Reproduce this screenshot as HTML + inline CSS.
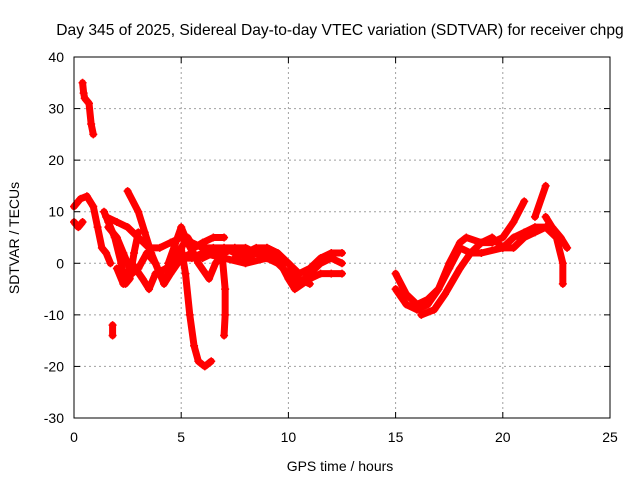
<!DOCTYPE html>
<html><head><meta charset="utf-8"><style>
body{margin:0;background:#fff}
svg{display:block;font-family:"Liberation Sans",sans-serif;font-size:14px}
</style></head><body>
<svg id="chart" width="640" height="480">
<text x="340" y="35" text-anchor="middle" style="font-size:15.6px">Day 345 of 2025, Sidereal Day-to-day VTEC variation (SDTVAR) for receiver chpg</text>
<text x="340" y="471" text-anchor="middle">GPS time / hours</text>
<text transform="translate(19,238) rotate(-90)" text-anchor="middle">SDTVAR / TECUs</text>
<g id="grid"></g><g id="ticks"></g><g id="marks"></g>
<rect x="74" y="57" width="536" height="361" fill="none" stroke="#000"/>
</svg>
<script>
const xTicks=[0,5,10,15,20,25];
const yTicks=[-30,-20,-10,0,10,20,30,40];
const trackEarly=[[0.4,35],[0.45,33],[0.5,32],[0.7,31],[0.8,27],[0.9,25]];
const trackA=[[0,11],[0.3,12.5],[0.6,13],[0.9,11],[1.1,7],[1.3,3],[1.5,2],[1.7,0]];
const trackB=[[0,8],[0.2,7],[0.4,8]];
const trackC=[[1.4,10],[1.6,8],[1.9,5],[2.2,0],[2.4,-4],[2.6,-3],[2.8,2],[3,6]];
const trackD=[[1.5,9],[2,8],[2.5,7],[3,5],[3.5,3],[4,3],[4.5,4],[5,5],[5.5,4],[6,3],[6.5,3],[7,3],[7.5,2],[8,2],[8.5,3],[9,3],[9.5,2],[10,0],[10.5,-2],[11,-1],[11.5,1],[12,2],[12.5,2]];
const trackE=[[2.5,14],[3,10],[3.3,6],[3.6,2],[4,-2],[4.3,-3],[4.6,0],[5,3],[5.3,5],[5.6,3],[6,4],[6.5,5],[7,5]];
const trackF=[[5,3],[5.2,-2],[5.4,-10],[5.6,-16],[5.8,-19],[6.1,-20],[6.4,-19]];
const trackG=[[6.9,2],[7.05,-5],[7.05,-10],[7,-14]];
const trackH=[[4.4,0],[5,7],[5.3,4],[5.8,0],[6.3,-3],[6.6,0],[7,2],[7.5,3]];
const trackI=[[7.5,1],[8,2],[9,2],[9.5,1],[10,-3],[10.3,-5],[11,-3],[11.5,-2],[12,-2],[12.5,-2]];
const trackJ=[[2,-1],[2.3,-4],[2.7,0],[3.2,-3],[3.5,-5],[3.8,-2],[4.3,-1],[4.7,1],[5.5,1],[6,2],[7,1],[8,0],[9,1],[10,0],[10.5,-3],[11,-4]];
const trackK=[[1.8,-12],[1.8,-14]];
const trackQ=[[1.6,7],[2,5],[2.3,2],[2.7,-2],[3,-1],[3.4,2],[3.8,0],[4.2,-4],[4.5,-2],[5,1],[5.5,2],[6,1],[6.5,2],[7,3],[8,3],[8.5,2],[9,3],[9.5,2]];
const trackR=[[7.5,3],[8,1],[8.5,2],[9,1],[9.5,0],[10,-2],[10.5,-4],[11,-2],[11.5,0],[12,1],[12.5,0]];
const trackL=[[15,-2],[15.5,-6],[16,-8],[16.5,-7],[17,-5],[17.5,0],[18,4],[18.3,5],[19,4],[19.5,4],[20,5],[20.5,8],[21,12]];
const trackM=[[15,-5],[15.5,-8],[16,-9],[16.5,-8],[17,-5],[17.5,-1],[18,3],[18.5,2],[19,2],[20,3],[20.5,5],[21,6],[21.5,7],[22,7],[22.5,5],[22.8,0],[22.8,-4]];
const trackN=[[16.2,-10],[16.8,-9],[17.3,-6],[18,-1],[18.5,2],[19,4],[19.5,5],[20,3],[20.5,3],[21,5],[21.5,6],[22,7]];
const trackO=[[21.5,9],[22,15]];
const trackP=[[22,9],[22.3,7],[22.7,5],[23,3]];
const tracks=[trackEarly,trackA,trackB,trackC,trackD,trackE,trackF,trackG,trackH,trackI,trackJ,trackK,trackQ,trackR,trackL,trackM,trackN,trackO,trackP];
const NS='http://www.w3.org/2000/svg';
const X0=74,X1=610,Y0=418,Y1=57;
function sx(v){return X0+(v-0)/(25-0)*(X1-X0);}
function sy(v){return Y0-(v+30)/(70)*(Y0-Y1);}
function mk(t,a,p){const e=document.createElementNS(NS,t);for(const k in a)e.setAttribute(k,a[k]);p.appendChild(e);return e;}
const grid=document.getElementById('grid'),ticks=document.getElementById('ticks'),marks=document.getElementById('marks');
xTicks.forEach(v=>{const x=sx(v);
 if(v>0&&v<25){const g=mk('line',{x1:x,x2:x,y1:Y1,y2:Y0,stroke:'#a0a0a0','stroke-dasharray':'2,3'},grid);
 
 }
 mk('line',{x1:x,x2:x,y1:Y0,y2:Y0-6,stroke:'#000'},ticks);mk('line',{x1:x,x2:x,y1:Y1,y2:Y1+6,stroke:'#000'},ticks);
 const t=mk('text',{x:x,y:Y0+24,'text-anchor':'middle'},ticks);t.textContent=v;
 
 });
yTicks.forEach(v=>{const y=sy(v);
 if(v>-30&&v<40){const g=mk('line',{x1:X0,x2:X1,y1:y,y2:y,stroke:'#a0a0a0','stroke-dasharray':'2,3'},grid);
 
 }
 mk('line',{x1:X0,x2:X0+6,y1:y,y2:y,stroke:'#000'},ticks);mk('line',{x1:X1,x2:X1-6,y1:y,y2:y,stroke:'#000'},ticks);
 const t=mk('text',{x:X0-10,y:y+5,'text-anchor':'end'},ticks);t.textContent=v;
 
 });
tracks.forEach((tr,i)=>{
 const pl=mk('polyline',{points:tr.map(p=>sx(p[0])+','+sy(p[1])).join(' '),fill:'none',stroke:'#ff0000','stroke-width':7,'stroke-linejoin':'round','stroke-linecap':'round'},marks);
 
 
 tr.forEach(p=>{const x=sx(p[0]),y=sy(p[1]);
  const m=mk('path',{d:`M${x-4},${y}H${x+4}M${x},${y-4}V${y+4}`,stroke:'#ff0000','stroke-width':1.5},marks);
  
  });
});
</script>
</body></html>
